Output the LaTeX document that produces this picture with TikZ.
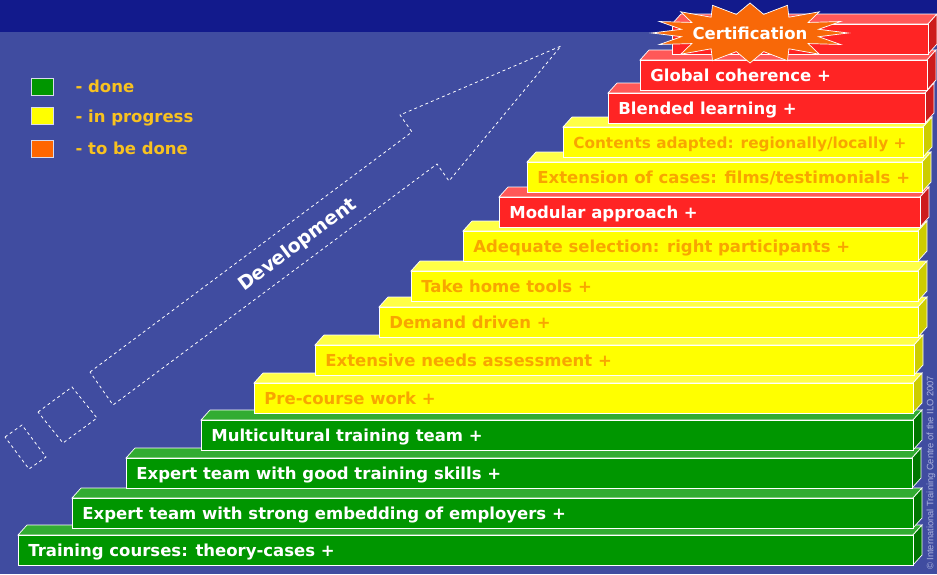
\documentclass[tikz,border=0pt]{standalone}
\usepackage{fontspec}
\setmainfont{DejaVu Sans}
\newfontfamily\noticefont{Liberation Sans}
\usetikzlibrary{positioning}
\definecolor{bandblue}{RGB}{18,26,140}
\definecolor{slideblue}{RGB}{64,76,160}
\definecolor{doneface}{RGB}{0,150,0}
\definecolor{donetop}{RGB}{50,172,50}
\definecolor{doneside}{RGB}{0,118,0}
\definecolor{progressface}{RGB}{255,255,0}
\definecolor{progresstop}{RGB}{255,255,70}
\definecolor{progressside}{RGB}{205,205,0}
\definecolor{todoface}{RGB}{255,36,36}
\definecolor{todotop}{RGB}{255,88,88}
\definecolor{todoside}{RGB}{205,28,28}
\definecolor{stairorange}{RGB}{248,165,0}
\definecolor{legendgold}{RGB}{248,194,32}
\definecolor{legendorange}{RGB}{255,102,0}
\definecolor{burst}{RGB}{248,104,8}
\definecolor{noticegrey}{RGB}{172,180,222}
\tikzset{
  stairfont/.style={font=\bfseries\fontsize{16.5}{20}\selectfont,text height=12pt,text depth=0pt},
  stairface/.style={stairfont,rectangle,draw=white,line width=.7pt,minimum height=30pt,inner xsep=10pt,inner ysep=0pt},
  done face/.style={fill=doneface,text=white},
  done top/.style={fill=donetop,draw=white,line width=.7pt},
  done side/.style={fill=doneside,draw=white,line width=.7pt},
  progress face/.style={fill=progressface,text=stairorange},
  progress top/.style={fill=progresstop,draw=white,line width=.7pt},
  progress side/.style={fill=progressside,draw=white,line width=.7pt},
  todo face/.style={fill=todoface,text=white},
  todo top/.style={fill=todotop,draw=white,line width=.7pt},
  todo side/.style={fill=todoside,draw=white,line width=.7pt},
  legendbox/.style={draw=white!80!slideblue,line width=.7pt,minimum width=22pt,minimum height=17pt,inner sep=0pt},
  legendtext/.style={stairfont,text=legendgold,inner sep=0pt},
  devoutline/.style={draw=white,line width=.8pt,dash pattern=on 3pt off 3pt},
  devtext/.style={font=\bfseries\fontsize{19}{22}\selectfont,text=white,inner sep=0pt},
  notice/.style={font=\noticefont\fontsize{9.3}{11}\selectfont,text=noticegrey,inner sep=0pt}
}
% one step of the stairs: name, left, top, right, status, text
\newcommand\stairblock[6]{%
  \pgfmathsetmacro\stairtw{#4-#2-20}%
  \filldraw[#5 top] (#2,#3) -- ++(9,-10) -- (#4+9,#3-10) -- (#4,#3) -- cycle;
  \filldraw[#5 side] (#4,#3) -- (#4+9,#3-10) -- (#4+9,#3+20) -- (#4,#3+30) -- cycle;
  \node[stairface,#5 face,anchor=north west] (#1) at (#2,#3) {\makebox[\stairtw pt][l]{#6}};
}

\begin{document}
\begin{tikzpicture}[x=1pt,y=-1pt]
\useasboundingbox (0,0) rectangle (937,574);
\fill[slideblue] (0,0) rectangle (937,574);
\fill[bandblue] (0,0) rectangle (937,32);

% legend
\node[legendbox,fill=doneface] (done key) at (42,86.5) {};
\node[legendbox,fill=progressface] (progress key) at (42,116) {};
\node[legendbox,fill=legendorange] (todo key) at (42,148.5) {};
\node[legendtext,right=22pt of done key] (done label) {- done};
\node[legendtext,right=22pt of progress key] (progress label) {- in progress};
\node[legendtext,right=22pt of todo key] (todo label) {- to be done};

% development arrow
\draw[devoutline] (90,372) -- (412,132) -- (400,115) -- (561,46) -- (449,181) -- (437,164) -- (113,405) -- cycle;
\draw[devoutline] (38,412) -- (72,387) -- (97,418) -- (63,443) -- cycle;
\draw[devoutline] (5,437) -- (22,425) -- (46,457) -- (29,469) -- cycle;
\node[devtext,rotate=36.7] (development) at (298,245) {Development};

% the stairs, from the bottom up
\stairblock{train}{18}{535}{913}{done}{Training courses: theory-cases +}
\stairblock{embed}{72}{498}{913}{done}{Expert team with strong embedding of employers +}
\stairblock{skills}{126}{458}{912}{done}{Expert team with good training skills +}
\stairblock{multi}{201}{420}{913}{done}{Multicultural training team +}
\stairblock{precourse}{254}{383}{913}{progress}{Pre-course work +}
\stairblock{needs}{315}{345}{914}{progress}{Extensive needs assessment +}
\stairblock{demand}{379}{307}{918}{progress}{Demand driven +}
\stairblock{home}{411}{271}{918}{progress}{Take home tools +}
\stairblock{select}{463}{231}{918}{progress}{Adequate selection: right participants +}
\stairblock{modular}{499}{197}{920}{todo}{Modular approach +}
\stairblock{cases}{527}{162}{922}{progress}{Extension of cases: films/testimonials +}
\stairblock{contents}{563}{127}{923}{progress}{\fontsize{15.3}{18}\selectfont Contents adapted: regionally/locally +}
\stairblock{blended}{608}{93}{925}{todo}{Blended learning +}
\stairblock{global}{640}{60}{927}{todo}{Global coherence +}
\stairblock{summit}{672}{24}{928}{todo}{}

% certification burst
\filldraw[fill=burst,draw=white,line width=.7pt] plot[variable=\k,samples at={0,...,31}]
  ({750+ifthenelse(mod(\k,2)==0,98,70)*cos(\k*11.25)},{33+ifthenelse(mod(\k,2)==0,30,19)*sin(\k*11.25)}) -- cycle;
\node[stairfont,text=white,inner sep=0pt] (cert) at (750,33) {Certification};

\node[notice,rotate=90] (notice) at (931,473) {© International Training Centre of the ILO 2007};
\end{tikzpicture}
\end{document}
